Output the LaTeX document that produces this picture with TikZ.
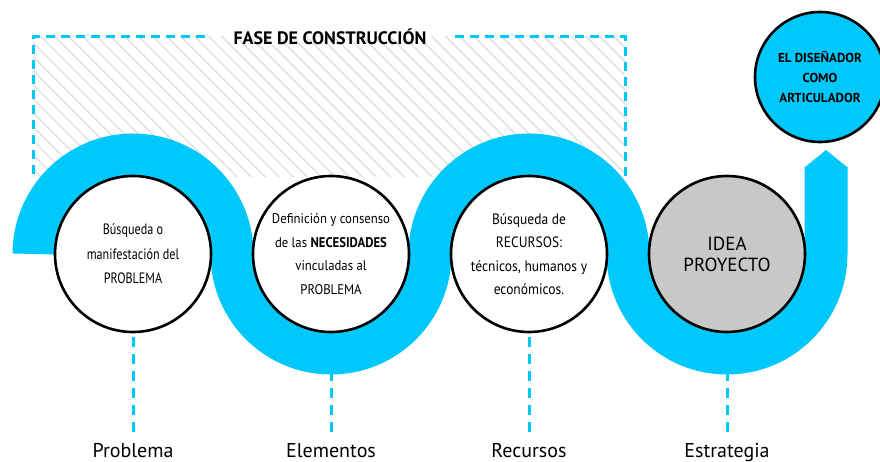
\documentclass[tikz,border=0pt]{standalone}
\usepackage{fontspec}
\setmainfont{PT Sans}
\newfontfamily\unofont[FakeStretch=0.81]{PT Sans}
\newfontfamily\dosfont[FakeStretch=0.91]{PT Sans}
\newfontfamily\tresfont[FakeStretch=0.9]{PT Sans}
\usetikzlibrary{patterns.meta,backgrounds}
\definecolor{cian}{RGB}{0,200,250}
\definecolor{gris}{RGB}{200,200,200}
\definecolor{rayas}{RGB}{226,226,226}

\begin{document}
\begin{tikzpicture}[x=1pt,y=1pt,
  paso/.style={draw,circle,line width=2.6pt,minimum size=156pt,inner sep=0pt,fill=white,align=center,font=\fontsize{14}{24}\selectfont},
  etapa/.style={anchor=base,inner sep=0pt,font=\fontsize{20}{24}\selectfont},
  guia/.style={draw=cian,line width=3pt,dash pattern=on 10pt off 7pt}]
\useasboundingbox (0,0) rectangle (880,461);

% etapas
\node[paso,font=\unofont\fontsize{15}{24.5}\selectfont] (c1)at(133,207) {Búsqueda o\\manifestación del\\PROBLEMA};
\node[paso,font=\dosfont\fontsize{14}{23.5}\selectfont] (c2)at(331,207) {Definición y consenso\\de las \textbf{NECESIDADES}\\vinculadas al\\PROBLEMA};
\node[paso,font=\tresfont\fontsize{15}{23.5}\selectfont] (c3)at(529,207) {Búsqueda de\\RECURSOS:\\técnicos, humanos y\\económicos.};
\node[paso,fill=gris,font=\fontsize{19}{21}\selectfont] (c4)at(727,207) {IDEA\\PROYECTO};
\node[paso,fill=cian,minimum size=130pt,font=\bfseries\fontsize{13}{20}\selectfont] (art)at(820,384) {EL DISEÑADOR\\COMO\\ARTICULADOR};

\node[etapa] (e1)at(133,4) {Problema};
\node[etapa] (e2)at(331,4) {Elementos};
\node[etapa] (e3)at(529,4) {Recursos};
\node[etapa] (e4)at(727,4) {Estrategia};

% fase de construccion
\node[font=\bfseries\fontsize{18}{20}\selectfont,inner xsep=28pt] (fase)at(330,424) {FASE DE CONSTRUCCIÓN};
\draw[guia,dash pattern=on 9pt off 6pt] (fase.west) -- (33,424) -- (33,284);
\draw[guia,dash pattern=on 9pt off 6pt] (fase.east) -- (625,424) -- (625,284);

\begin{scope}[on background layer]
\fill[pattern={Lines[angle=-45,distance=10.5pt,line width=1.8pt]},pattern color=rayas] (33,284) rectangle (625,424);
\draw[guia,shorten <=4pt,shorten >=6pt] (c1.south) -- (e1.north);
\draw[guia,shorten <=4pt,shorten >=6pt] (c2.south) -- (e2.north);
\draw[guia,shorten <=4pt,shorten >=6pt] (c3.south) -- (e3.north);
\draw[guia,shorten <=4pt,shorten >=6pt] (c4.south) -- (e4.north);
% camino
\draw[cian,line width=43pt] (34,207) arc[start angle=180,end angle=0,radius=99]
  arc[start angle=180,end angle=360,radius=99]
  arc[start angle=180,end angle=0,radius=99]
  arc[start angle=180,end angle=360,radius=99] -- (826,294);
\fill[cian] (804.5,293.5) -- (826,311) -- (847.5,293.5) -- cycle;
\end{scope}
\end{tikzpicture}
\end{document}
